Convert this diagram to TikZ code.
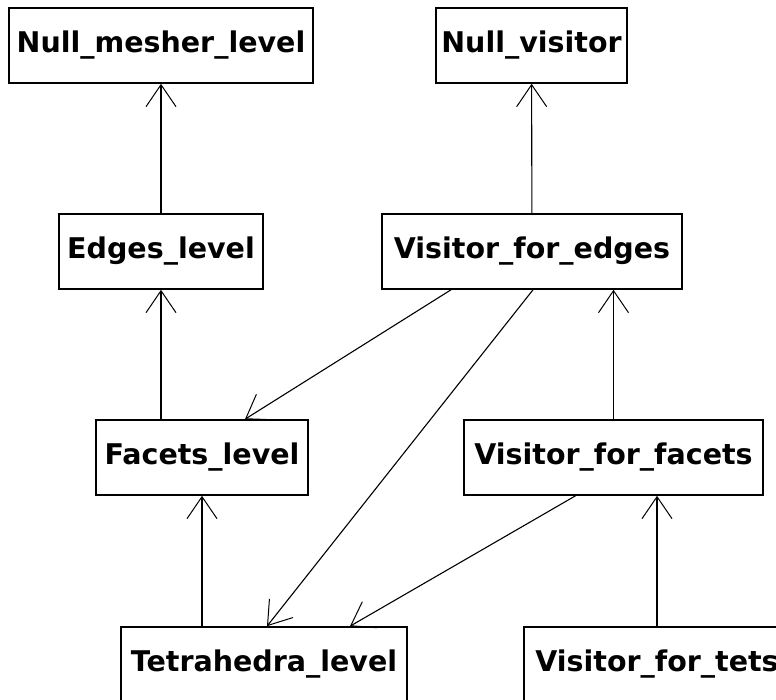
\documentclass[tikz,border=0pt]{standalone}
\usepackage{fontspec}
\setmainfont{DejaVu Sans}
\usetikzlibrary{arrows.meta}

\begin{document}
\begin{tikzpicture}[x=1pt, y=-1pt,
    every node/.style={draw, line width=1.6pt, rectangle, minimum height=75pt, inner sep=0pt,
        font=\fontsize{28.5}{32}\selectfont\bfseries},
    dep/.style={line width=1.1pt, -{Straight Barb[length=22pt, width=30pt, line width=1pt]}}]

            \useasboundingbox (0,0) rectangle (776,700);

            % Nodes
            \node[minimum width=304pt] (nml) at (161,45.5) {Null\_mesher\_level};
            \node[minimum width=191pt] (nv)  at (531.5,45.5) {Null\_visitor};
            \node[minimum width=204pt] (el)  at (161,251.5) {Edges\_level};
            \node[minimum width=300pt] (vfe) at (532,251.5) {Visitor\_for\_edges};
            \node[minimum width=212pt] (fl)  at (202,457.5) {Facets\_level};
            \node[minimum width=299pt] (vff) at (613.5,457.5) {Visitor\_for\_facets};
            \node[minimum width=286pt] (tl)  at (264,664.5) {Tetrahedra\_level};
            \node[minimum width=266pt] (vft) at (657,664.5) {Visitor\_for\_tets};

            % Edges (inheritance)
            \draw[dep] (el) -- (nml);
            \draw[dep] (fl.north -| el.south) -- (el.south);
            \draw[dep] (tl.north -| fl.south) -- (fl.south);
            \draw[dep] (vfe) -- (nv);
            \draw[dep] (vff.north) -- (vff.north |- vfe.south);
            \draw[dep] (vft.north) -- (vft.north |- vff.south);

            % Edges (diagonal)
            \draw[dep] ([xshift=-81pt]vfe.south) -- ([xshift=43pt]fl.north);
            \draw[dep] ([xshift=1pt]vfe.south) -- ([xshift=3pt]tl.north);
            \draw[dep] ([xshift=-38pt]vff.south) -- ([xshift=86pt]tl.north);
            \end{tikzpicture}
\end{document}
